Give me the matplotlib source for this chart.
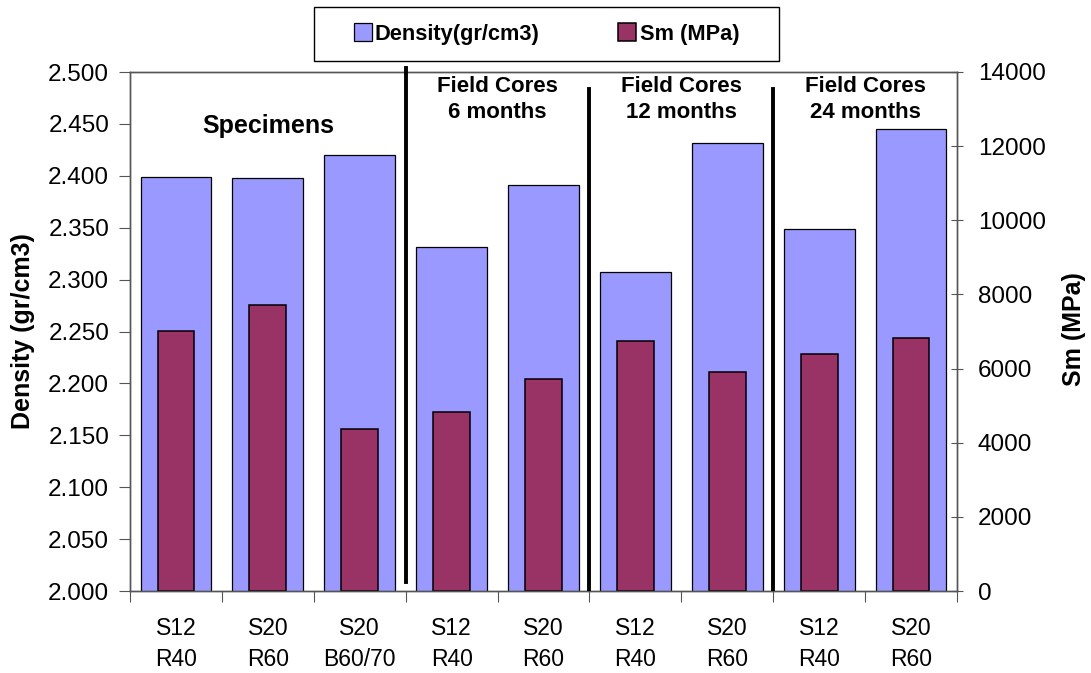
import matplotlib
matplotlib.use("Agg")
import matplotlib.pyplot as plt
from matplotlib.patches import Rectangle
import numpy as np

plt.rcParams["font.family"] = ["Liberation Sans", "DejaVu Sans"]

categories = ["S12\nR40", "S20\nR60", "S20\nB60/70", "S12\nR40", "S20\nR60",
              "S12\nR40", "S20\nR60", "S12\nR40", "S20\nR60"]
density = [2.399, 2.398, 2.420, 2.331, 2.391, 2.307, 2.432, 2.349, 2.445]
sm = [7020, 7710, 4380, 4840, 5710, 6740, 5910, 6390, 6820]
group_labels = ["Specimens", "Field Cores\n6 months", "Field Cores\n12 months",
                "Field Cores\n24 months"]

DENS_COLOR = "#9999FF"
SM_COLOR = "#993366"
GRID = "#555555"
W, H = 1091, 673

fig = plt.figure(figsize=(W / 100, H / 100), dpi=100)
ax = fig.add_axes([130 / W, 82 / H, 827 / W, 519 / H])
ax2 = ax.twinx()

x = np.arange(len(categories))
ax.bar(x, density, width=0.77, color=DENS_COLOR,
       edgecolor="black", linewidth=0.9, label="Density(gr/cm3)")
ax2.bar(x, sm, width=0.4, color=SM_COLOR, edgecolor="black",
        linewidth=1.1, label="Sm (MPa)")

yt = np.arange(2.0, 2.501, 0.05)
ax.set_ylim(2.0, 2.5)
ax.set_yticks(yt)
ax.set_yticklabels([f"{v:.3f}" for v in yt])
ax2.set_ylim(0, 14000)
ax2.set_yticks(np.arange(0, 14001, 2000))
ax.set_xlim(-0.5, len(categories) - 0.5)

ax.set_xticks(np.arange(-0.5, len(categories), 1.0))
ax.set_xticklabels([])
ax.set_xticks(x, minor=True)
ax.set_xticklabels(categories, minor=True, fontsize=16.5, linespacing=1.4)
ax.tick_params(axis="x", which="minor", length=0, pad=19)
ax.tick_params(axis="x", which="major", length=8, color=GRID, direction="out")
ax.tick_params(axis="y", length=8, color=GRID, labelsize=17.5, direction="out", pad=7)
ax2.tick_params(axis="y", length=8, color=GRID, labelsize=17.5, direction="inout", pad=11)

for a in (ax, ax2):
    for s in a.spines.values():
        s.set_color(GRID)
        s.set_linewidth(1.0)

fig.text(23 / W, 1 - 331 / H, "Density (gr/cm3)", rotation=90, ha="center",
         va="center", fontsize=18, fontweight="bold")
fig.text(1074 / W, 1 - 329 / H, "Sm (MPa)", rotation=90, ha="center",
         va="center", fontsize=18, fontweight="bold")

# group separators
ax2.plot([2.5, 2.5], [230, 14110], color="black", lw=2.8, clip_on=False, zorder=5)
ax2.plot([4.5, 4.5], [0, 13550], color="black", lw=2.8, zorder=5)
ax2.plot([6.5, 6.5], [0, 13550], color="black", lw=2.8, zorder=5)

ax2.text(1.0, 12350, group_labels[0], ha="center", va="baseline",
         fontsize=18, fontweight="bold")
for xc, lab in zip([3.5, 5.5, 7.5], group_labels[1:]):
    ax2.text(xc, 13250, lab, ha="center", va="center", fontsize=16,
             fontweight="bold", linespacing=1.3)

# legend box
fig.patches.append(Rectangle((314 / W, 1 - 61 / H), 465 / W, 54 / H,
                             transform=fig.transFigure, facecolor="white",
                             edgecolor="black", linewidth=1.0))
h1, l1 = ax.get_legend_handles_labels()
h2, l2 = ax2.get_legend_handles_labels()
leg = fig.legend(h1 + h2, l1 + l2, loc="center",
                 bbox_to_anchor=(546.5 / W, 1 - 34 / H), ncol=2,
                 frameon=False, prop={"weight": "bold", "size": 15.7},
                 handlelength=0.83, handleheight=0.83, handletextpad=0.15,
                 columnspacing=3.6, borderpad=0, borderaxespad=0)

fig.savefig("out.png", dpi=100)
